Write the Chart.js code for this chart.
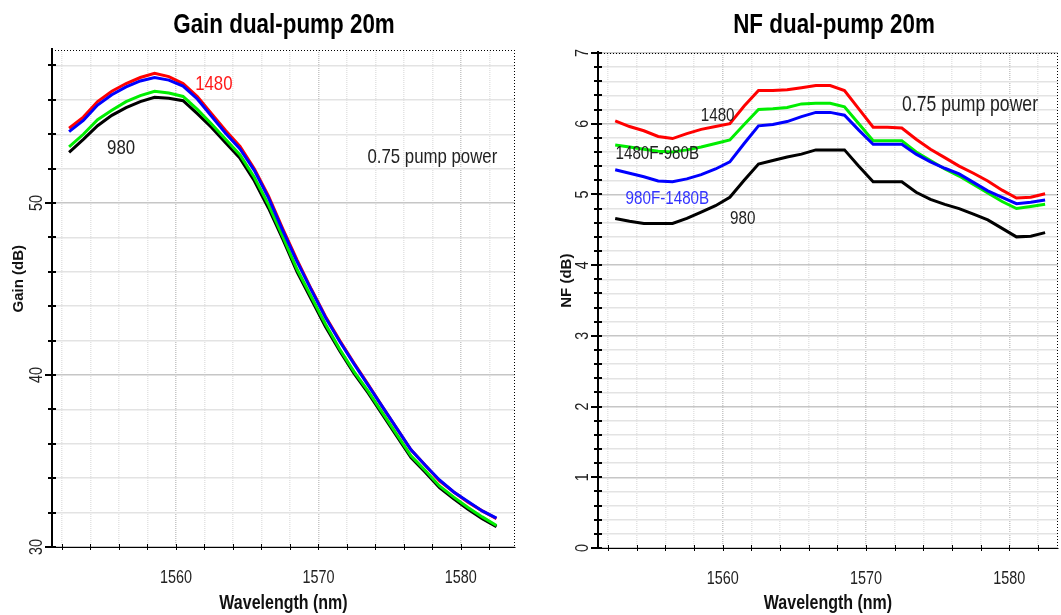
<!DOCTYPE html>
<html>
<head>
<meta charset="utf-8">
<title>Gain / NF dual-pump 20m</title>
<script src="https://cdn.jsdelivr.net/npm/chart.js@4.4.1/dist/chart.umd.min.js"></script>
<style>
  html, body { margin: 0; padding: 0; background: #fff; }
  #wrap { position: relative; width: 1061px; height: 615px; overflow: hidden; }
  canvas { position: absolute; top: 0; }
  #gain-chart { left: 0; }
  #nf-chart { left: 540px; }
</style>
</head>
<body>
<div id="wrap">
  <canvas id="gain-chart" width="530" height="615"></canvas>
  <canvas id="nf-chart" width="521" height="615"></canvas>
</div>
<script>
// Wavelength grid (nm)
var WAVELENGTH = [1552.5, 1553.5, 1554.5, 1555.5, 1556.5, 1557.5, 1558.5, 1559.5, 1560.5, 1561.5,
  1562.5, 1563.5, 1564.5, 1565.5, 1566.5, 1567.5, 1568.5, 1569.5, 1570.5, 1571.5,
  1572.5, 1573.5, 1574.5, 1575.5, 1576.5, 1577.5, 1578.5, 1579.5, 1580.5, 1581.5, 1582.5];

// Gain (dB), 0.75 pump power
var GAIN_1480 = [54.35, 55.0, 55.9, 56.5, 56.95, 57.3, 57.55, 57.35, 56.95, 56.2,
  55.2, 54.2, 53.3, 52.0, 50.4, 48.5, 46.7, 45.0, 43.4, 42.0,
  40.7, 39.45, 38.15, 36.9, 35.65, 34.75, 33.85, 33.2, 32.6, 32.1, 31.65];
var GAIN_980F_1480B = [54.15, 54.8, 55.7, 56.3, 56.75, 57.1, 57.3, 57.15, 56.8, 56.05,
  55.05, 54.05, 53.15, 51.9, 50.3, 48.4, 46.6, 44.95, 43.35, 41.95,
  40.65, 39.4, 38.15, 36.9, 35.65, 34.75, 33.9, 33.2, 32.65, 32.1, 31.68];
var GAIN_1480F_980B = [53.27, 54.0, 54.85, 55.4, 55.9, 56.25, 56.5, 56.4, 56.2, 55.45,
  54.6, 53.7, 52.8, 51.5, 49.9, 48.05, 46.15, 44.55, 42.95, 41.5,
  40.2, 39.05, 37.8, 36.55, 35.3, 34.45, 33.55, 32.9, 32.3, 31.75, 31.25];
var GAIN_980 = [52.95, 53.7, 54.5, 55.1, 55.55, 55.9, 56.15, 56.1, 55.95, 55.2,
  54.4, 53.5, 52.6, 51.3, 49.7, 47.9, 46.0, 44.4, 42.8, 41.4,
  40.1, 38.95, 37.7, 36.45, 35.2, 34.35, 33.45, 32.8, 32.2, 31.65, 31.18];

// Noise figure (dB), 0.75 pump power
var NF_1480 = [6.04, 5.96, 5.9, 5.82, 5.79, 5.86, 5.92, 5.96, 6.0, 6.25,
  6.47, 6.47, 6.48, 6.51, 6.54, 6.54, 6.47, 6.21, 5.95, 5.95,
  5.94, 5.78, 5.64, 5.52, 5.4, 5.3, 5.19, 5.06, 4.95, 4.96, 5.01];
var NF_1480F_980B = [5.7, 5.67, 5.64, 5.61, 5.6, 5.63, 5.67, 5.72, 5.77, 5.99,
  6.2, 6.21, 6.23, 6.28, 6.29, 6.29, 6.24, 6.0, 5.76, 5.76,
  5.76, 5.6, 5.48, 5.36, 5.26, 5.14, 5.02, 4.9, 4.8, 4.83, 4.86];
var NF_980F_1480B = [5.35, 5.3, 5.25, 5.19, 5.18, 5.22, 5.28, 5.36, 5.46, 5.72,
  5.97, 5.99, 6.03, 6.1, 6.16, 6.16, 6.12, 5.91, 5.71, 5.71,
  5.71, 5.57, 5.46, 5.37, 5.29, 5.17, 5.05, 4.96, 4.87, 4.89, 4.92];
var NF_980 = [4.66, 4.62, 4.59, 4.59, 4.59, 4.66, 4.75, 4.84, 4.96, 5.2,
  5.43, 5.48, 5.53, 5.57, 5.63, 5.63, 5.63, 5.4, 5.18, 5.18,
  5.18, 5.03, 4.93, 4.86, 4.8, 4.72, 4.64, 4.52, 4.4, 4.41, 4.46];

var X_LABELS = [1560, 1570, 1580];
var GAIN_LABELS = [30, 40, 50];
var NF_LABELS = [0, 1, 2, 3, 4, 5, 6, 7];

var SANS = "'Liberation Sans', Arial, sans-serif";
var SQUEEZE = 0.8; // text on these plots is horizontally condensed

function pts(ys) {
  return WAVELENGTH.map(function (x, i) { return { x: x, y: ys[i] }; });
}

function series(label, ys, color) {
  return {
    label: label,
    data: pts(ys),
    borderColor: color,
    borderWidth: 3,
    pointRadius: 0,
    tension: 0,
    fill: false
  };
}

function isLabelled(v, list) {
  return list.some(function (l) { return Math.abs(l - v) < 1e-6; });
}

/** Centered text, optionally rotated and condensed */
function drawText(ctx, s, x, y, font, color, rotate, squeeze) {
  ctx.save();
  ctx.font = font;
  ctx.fillStyle = color;
  ctx.textAlign = 'center';
  ctx.textBaseline = 'middle';
  ctx.translate(x, y);
  if (rotate) ctx.rotate(-Math.PI / 2);
  ctx.scale(squeeze, 1);
  ctx.fillText(s, 0, 0);
  ctx.restore();
}

/** Axis lines, tick labels, titles and in-plot notes */
var decor = {
  id: 'decor',
  afterDraw: function (chart, args, o) {
    var ctx = chart.ctx;
    var area = chart.chartArea;
    var xs = chart.scales.x;
    var ys = chart.scales.y;
    ctx.save();

    // dotted top and right frame
    ctx.strokeStyle = '#000';
    ctx.lineWidth = 1;
    ctx.setLineDash([1, 2]);
    ctx.beginPath();
    ctx.moveTo(area.left, area.top + 0.5);
    ctx.lineTo(area.right, area.top + 0.5);
    ctx.moveTo(area.right - 0.5, area.top);
    ctx.lineTo(area.right - 0.5, area.bottom);
    ctx.stroke();
    ctx.setLineDash([]);

    // bottom axis tick marks
    ctx.beginPath();
    xs.ticks.forEach(function (t) {
      var px = Math.round(xs.getPixelForValue(t.value)) + 0.5;
      ctx.moveTo(px, area.bottom - 3);
      ctx.lineTo(px, area.bottom + 3);
    });
    ctx.stroke();

    // left axis line with ticks
    ctx.lineWidth = 2;
    ctx.beginPath();
    ctx.moveTo(area.left, area.top - 2);
    ctx.lineTo(area.left, area.bottom + 1);
    ys.ticks.forEach(function (t) {
      var py = Math.round(ys.getPixelForValue(t.value));
      var big = isLabelled(t.value, o.yLabels);
      ctx.moveTo(area.left - (big ? 7 : 4), py);
      ctx.lineTo(area.left + 4, py);
    });
    ctx.stroke();
    ctx.restore();

    // tick labels
    o.yLabels.forEach(function (v) {
      drawText(ctx, String(v), area.left - 15, ys.getPixelForValue(v), '18px ' + SANS, '#222', true, SQUEEZE);
    });
    X_LABELS.forEach(function (v) {
      drawText(ctx, String(v), xs.getPixelForValue(v), area.bottom + 31, '18px ' + SANS, '#222', false, SQUEEZE);
    });

    // axis titles
    drawText(ctx, 'Wavelength (nm)', (area.left + area.right) / 2, 603, 'bold 20px ' + SANS, '#111', false, SQUEEZE);
    drawText(ctx, o.yTitle, o.yTitleX, ys.getPixelForValue(o.yTitleAt), 'bold 15px ' + SANS, '#111', true, 1);

    // chart title
    drawText(ctx, o.title, o.titleX, 25, 'bold 28px ' + SANS, '#000', false, SQUEEZE);

    // notes inside the plot
    o.notes.forEach(function (n) {
      drawText(ctx, n.text, xs.getPixelForValue(n.x), ys.getPixelForValue(n.y), n.size + 'px ' + SANS, n.color, false, SQUEEZE);
    });
  }
};

function gridColor(labels, major, minor) {
  return function (c) {
    return c.tick && isLabelled(c.tick.value, labels) ? major : minor;
  };
}

function makeChart(id, datasets, cfg) {
  return new Chart(document.getElementById(id), {
    type: 'line',
    data: { datasets: datasets },
    plugins: [decor],
    options: {
      responsive: false,
      animation: false,
      events: [],
      layout: { padding: cfg.padding },
      plugins: {
        legend: { display: false },
        tooltip: { enabled: false },
        decor: cfg.decor
      },
      scales: {
        x: {
          type: 'linear',
          min: 1551.3,
          max: cfg.xMax,
          afterFit: function (s) { s.height = cfg.xHeight; },
          border: { display: true, color: '#000', dash: [1, 1], width: 1 },
          grid: { color: gridColor(X_LABELS, '#c6c6c6', '#e3e3e3'), lineWidth: 1.5, drawTicks: false },
          ticks: { stepSize: 2, includeBounds: false, autoSkip: false, display: false }
        },
        y: {
          min: cfg.yMin,
          max: cfg.yMax,
          afterFit: function (s) { s.width = cfg.yWidth; },
          border: { display: false },
          grid: { color: gridColor(cfg.decor.yLabels, '#c6c6c6', '#e3e3e3'), lineWidth: 1.5, drawTicks: false },
          ticks: { stepSize: cfg.yStep, includeBounds: false, display: false }
        }
      }
    }
  });
}

makeChart('gain-chart', [
  series('980F-1480B', GAIN_980F_1480B, '#0000ff'),
  series('1480', GAIN_1480, '#ff0000'),
  series('1480F-980B', GAIN_1480F_980B, '#00ee00'),
  series('980', GAIN_980, '#000000')
], {
  padding: { top: 50, right: 15, left: 0, bottom: 0 },
  xMax: 1583.8, xHeight: 68,
  yMin: 30, yMax: 58.9, yStep: 2, yWidth: 52,
  decor: {
    title: 'Gain dual-pump 20m', titleX: 284,
    yTitle: 'Gain (dB)', yTitleX: 19, yTitleAt: 45.6,
    yLabels: GAIN_LABELS,
    notes: [
      { text: '1480', x: 1562.66, y: 56.9, color: '#ff1a1a', size: 21 },
      { text: '980', x: 1556.15, y: 53.2, color: '#222', size: 21 },
      { text: '0.75 pump power', x: 1578.0, y: 52.67, color: '#222', size: 21 }
    ]
  }
});

makeChart('nf-chart', [
  series('980F-1480B', NF_980F_1480B, '#0000ff'),
  series('1480', NF_1480, '#ff0000'),
  series('1480F-980B', NF_1480F_980B, '#00ee00'),
  series('980', NF_980, '#000000')
], {
  padding: { top: 53, right: 3, left: 0, bottom: 0 },
  xMax: 1583.4, xHeight: 67,
  yMin: 0, yMax: 7, yStep: 0.2, yWidth: 58,
  decor: {
    title: 'NF dual-pump 20m', titleX: 294,
    yTitle: 'NF (dB)', yTitleX: 27, yTitleAt: 3.78,
    yLabels: NF_LABELS,
    notes: [
      { text: '1480', x: 1559.65, y: 6.11, color: '#222', size: 19 },
      { text: '1480F-980B', x: 1555.44, y: 5.57, color: '#222', size: 19 },
      { text: '980F-1480B', x: 1556.14, y: 4.94, color: '#3333ff', size: 19 },
      { text: '980', x: 1561.4, y: 4.65, color: '#222', size: 19 },
      { text: '0.75 pump power', x: 1577.26, y: 6.27, color: '#222', size: 22 }
    ]
  }
});
</script>
</body>
</html>
